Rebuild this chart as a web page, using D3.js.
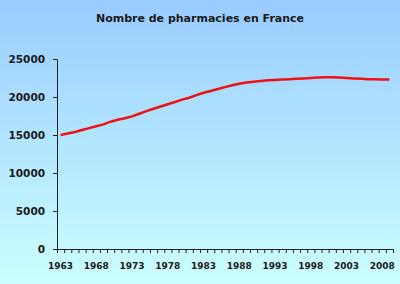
<!DOCTYPE html>
<html>
<head>
<meta charset="utf-8">
<script src="https://cdn.jsdelivr.net/npm/d3@7"></script>
<style>
  body { margin: 0; }
  svg { display: block; }
</style>
</head>
<body>
<svg id="chart"></svg>
<script>
// Nombre de pharmacies en France, 1963-2009
const years = d3.range(1963, 2010);
const pharmacies = [
    15000, 15200, 15400, 15650, 15900, 16150, 16400, 16750, 17000, 17200,
    17450, 17800, 18150, 18450, 18750, 19050, 19350, 19650, 19900, 20250,
    20550, 20800, 21050, 21300, 21550, 21750, 21900, 22000, 22100, 22200,
    22250, 22300, 22350, 22400, 22450, 22500, 22550, 22600, 22600, 22550,
    22500, 22450, 22400, 22350, 22350, 22300, 22300
];
const yTicks = [0, 5000, 10000, 15000, 20000, 25000];
const xLabels = [1963, 1968, 1973, 1978, 1983, 1988, 1993, 1998, 2003, 2008];

const width = 400;
const height = 284;
const plotLeft = 57, plotRight = 393, plotTop = 59, plotBottom = 249;

const svg = d3.select('#chart')
    .attr('width', width)
    .attr('height', height);

// background gradient
const grad = svg.append('defs').append('linearGradient')
    .attr('id', 'bg')
    .attr('x1', 0).attr('y1', 0).attr('x2', 0).attr('y2', 1);
grad.append('stop').attr('offset', '0%').attr('stop-color', '#99ccff');
grad.append('stop').attr('offset', '100%').attr('stop-color', '#ccffff');

svg.append('rect')
    .attr('width', width)
    .attr('height', height)
    .style('fill', 'url(#bg)');

// title
svg.append('text')
    .attr('x', 200)
    .attr('y', 22)
    .attr('text-anchor', 'middle')
    .style('font-family', 'DejaVu Sans, sans-serif')
    .style('font-weight', 'bold')
    .style('font-size', '11px')
    .style('fill', '#1a1a1a')
    .text('Nombre de pharmacies en France');

// scales
const xScale = d3.scaleBand()
    .domain(years)
    .range([plotLeft, plotRight]);

const xEdges = d3.scaleLinear()
    .domain([1963, 2010])
    .range([plotLeft, plotRight]);

const yScale = d3.scaleLinear()
    .domain([0, 25000])
    .range([plotBottom, plotTop]);

// y axis
const yAxis = svg.append('g')
    .attr('transform', `translate(${plotLeft}, 0)`)
    .call(d3.axisLeft(yScale).tickValues(yTicks).tickSize(4).tickPadding(8).tickFormat(d3.format('d')));
yAxis.selectAll('text')
    .style('font-family', 'DejaVu Sans, sans-serif')
    .style('font-weight', 'bold')
    .style('font-size', '10.5px')
    .style('fill', '#1a1a1a');

// x axis: ticks between categories
const xTickAxis = svg.append('g')
    .attr('transform', `translate(0, ${plotBottom})`)
    .call(d3.axisBottom(xEdges).tickValues(d3.range(1963, 2011)).tickSize(4).tickFormat(''));

// x axis labels every 5 years
const xAxis = svg.append('g')
    .attr('transform', `translate(0, ${plotBottom})`)
    .call(d3.axisBottom(xScale).tickValues(xLabels).tickSize(0).tickPadding(14));
xAxis.select('.domain').remove();
xAxis.selectAll('text')
    .style('font-family', 'DejaVu Sans, sans-serif')
    .style('font-weight', 'bold')
    .style('font-size', '9px')
    .style('fill', '#1a1a1a');

[yAxis, xTickAxis].forEach(g => {
    g.selectAll('.domain, line').style('stroke', '#222');
});

// line
const line = d3.line()
    .x((d, i) => xScale(years[i]) + xScale.bandwidth() / 2)
    .y(d => yScale(d));

svg.append('path')
    .datum(pharmacies)
    .attr('d', line)
    .style('fill', 'none')
    .style('stroke', '#ee1111')
    .style('stroke-width', 2.5);
</script>
</body>
</html>
